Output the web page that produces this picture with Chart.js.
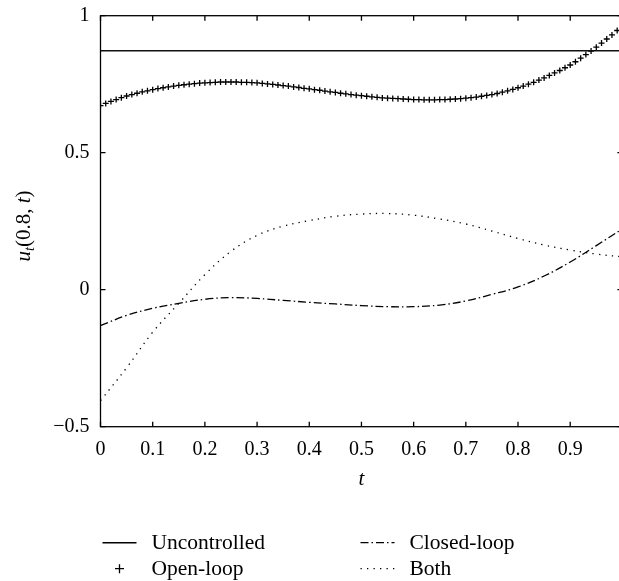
<!DOCTYPE html>
<html>
<head>
<meta charset="utf-8">
<title>u_t(0.8, t)</title>
<script src="https://cdn.jsdelivr.net/npm/chart.js@4.4.1/dist/chart.umd.min.js"></script>
<style>
    html, body { margin: 0; padding: 0; background: #fff; overflow: hidden; }
    #wrap { width: 640px; height: 581px; }
</style>
</head>
<body>
<div id="wrap"><canvas id="chart" width="640" height="581"></canvas></div>
<script>
// sample positions in t
const tCoarse = [0, 0.05, 0.1, 0.15, 0.2, 0.25, 0.3, 0.35, 0.4, 0.45, 0.5,
                 0.55, 0.6, 0.65, 0.7, 0.75, 0.8, 0.85, 0.9, 0.95, 1];
const tFine = [0, 0.01, 0.02, 0.03, 0.04, 0.05, 0.06, 0.07, 0.08, 0.09,
               0.1, 0.11, 0.12, 0.13, 0.14, 0.15, 0.16, 0.17, 0.18, 0.19,
               0.2, 0.21, 0.22, 0.23, 0.24, 0.25, 0.26, 0.27, 0.28, 0.29,
               0.3, 0.31, 0.32, 0.33, 0.34, 0.35, 0.36, 0.37, 0.38, 0.39,
               0.4, 0.41, 0.42, 0.43, 0.44, 0.45, 0.46, 0.47, 0.48, 0.49,
               0.5, 0.51, 0.52, 0.53, 0.54, 0.55, 0.56, 0.57, 0.58, 0.59,
               0.6, 0.61, 0.62, 0.63, 0.64, 0.65, 0.66, 0.67, 0.68, 0.69,
               0.7, 0.71, 0.72, 0.73, 0.74, 0.75, 0.76, 0.77, 0.78, 0.79,
               0.8, 0.81, 0.82, 0.83, 0.84, 0.85, 0.86, 0.87, 0.88, 0.89,
               0.9, 0.91, 0.92, 0.93, 0.94, 0.95, 0.96, 0.97, 0.98, 0.99, 1];

// series values
const uncontrolled = [0.872, 0.872, 0.872, 0.872, 0.872, 0.872, 0.872, 0.872, 0.872, 0.872, 0.872,
                      0.872, 0.872, 0.872, 0.872, 0.872, 0.872, 0.872, 0.872, 0.872, 0.872];
const openLoop = [0.672, 0.680, 0.687, 0.694, 0.701, 0.707, 0.712, 0.717, 0.722, 0.726,
                  0.730, 0.734, 0.737, 0.740, 0.743, 0.746, 0.748, 0.750, 0.752, 0.754,
                  0.755, 0.756, 0.757, 0.758, 0.758, 0.758, 0.758, 0.757, 0.757, 0.756,
                  0.755, 0.753, 0.751, 0.749, 0.747, 0.745, 0.743, 0.740, 0.738, 0.735,
                  0.733, 0.730, 0.728, 0.725, 0.722, 0.720, 0.717, 0.715, 0.712, 0.710,
                  0.708, 0.706, 0.704, 0.702, 0.700, 0.699, 0.698, 0.697, 0.696, 0.695,
                  0.694, 0.694, 0.693, 0.693, 0.693, 0.694, 0.694, 0.695, 0.696, 0.697,
                  0.699, 0.701, 0.703, 0.706, 0.709, 0.712, 0.716, 0.721, 0.726, 0.731,
                  0.737, 0.743, 0.750, 0.757, 0.765, 0.773, 0.782, 0.791, 0.800, 0.810,
                  0.820, 0.832, 0.845, 0.858, 0.871, 0.885, 0.900, 0.915, 0.930, 0.946, 0.962];
const closedLoop = [-0.131, -0.094, -0.068, -0.050, -0.035, -0.029, -0.032, -0.039, -0.046, -0.052, -0.058,
                    -0.062, -0.062, -0.056, -0.041, -0.017, 0.010, 0.050, 0.101, 0.161, 0.222];
const both = [-0.405, -0.285, -0.155, -0.050, 0.055, 0.140, 0.198, 0.232, 0.252, 0.268, 0.276,
              0.278, 0.272, 0.258, 0.240, 0.214, 0.187, 0.163, 0.145, 0.130, 0.120];

// axis ticks
const xTicks = [0, 0.1, 0.2, 0.3, 0.4, 0.5, 0.6, 0.7, 0.8, 0.9, 1];
const xTickLabels = ['0', '0.1', '0.2', '0.3', '0.4', '0.5', '0.6', '0.7', '0.8', '0.9', '1'];
const yTicks = [-0.5, 0, 0.5, 1];
const yTickLabels = ['\u22120.5', '0', '0.5', '1'];

const FONT = '"Liberation Serif", "Times New Roman", serif';

function pairs(xs, ys) {
    return ys.map((v, i) => ({ x: xs[i], y: v }));
}

// box round the plot with inward tick marks on all four sides
const framePlugin = {
    id: 'frame',
    afterDatasetsDraw(chart) {
        const { ctx, chartArea: a, scales: { x, y } } = chart;
        ctx.save();
        ctx.strokeStyle = '#000';
        ctx.lineWidth = 1.3;
        ctx.strokeRect(a.left, a.top, a.right - a.left, a.bottom - a.top);
        ctx.beginPath();
        x.ticks.forEach(t => {
            const px = x.getPixelForValue(t.value);
            ctx.moveTo(px, a.bottom); ctx.lineTo(px, a.bottom - 5);
            ctx.moveTo(px, a.top); ctx.lineTo(px, a.top + 5);
        });
        y.ticks.forEach(t => {
            const py = y.getPixelForValue(t.value);
            ctx.moveTo(a.left, py); ctx.lineTo(a.left + 5, py);
            ctx.moveTo(a.right, py); ctx.lineTo(a.right - 5, py);
        });
        ctx.stroke();
        ctx.restore();
    }
};

// axis titles: italic t, and u_t(0.8, t) with a subscript
const titlePlugin = {
    id: 'titles',
    afterDraw(chart) {
        const { ctx, chartArea: a } = chart;
        ctx.save();
        ctx.fillStyle = '#000';
        ctx.textAlign = 'center';
        ctx.textBaseline = 'alphabetic';
        ctx.font = 'italic 21px ' + FONT;
        ctx.fillText('t', (a.left + a.right) / 2, a.bottom + 58);

        const parts = [
            { text: 'u', font: 'italic 21px ' + FONT, dy: 0 },
            { text: 't', font: 'italic 14px ' + FONT, dy: 4 },
            { text: '(0.8, ', font: '21px ' + FONT, dy: 0 },
            { text: 't', font: 'italic 21px ' + FONT, dy: 0 },
            { text: ')', font: '21px ' + FONT, dy: 0 }
        ];
        let total = 0;
        parts.forEach(p => { ctx.font = p.font; p.w = ctx.measureText(p.text).width; total += p.w; });
        ctx.translate(23, 226);
        ctx.rotate(-Math.PI / 2);
        ctx.textAlign = 'left';
        let cx = -total / 2;
        parts.forEach(p => {
            ctx.font = p.font;
            ctx.fillText(p.text, cx, 7 + p.dy);
            cx += p.w;
        });
        ctx.restore();
    }
};

// two-column legend under the plot
const legendPlugin = {
    id: 'plotLegend',
    afterDraw(chart) {
        const { ctx, chartArea: a } = chart;
        ctx.save();
        ctx.font = '21.5px ' + FONT;
        ctx.fillStyle = '#000';
        ctx.textBaseline = 'alphabetic';
        ctx.textAlign = 'left';
        chart.data.datasets.forEach((ds, i) => {
            const col = Math.floor(i / 2);
            const row = i % 2;
            const x0 = a.left + 2 + col * 258;
            const yc = a.bottom + 116 + row * 26;
            ctx.strokeStyle = '#000';
            ctx.lineWidth = ds.borderWidth || 1.2;
            if (ds.showLine === false) {
                const cx = x0 + 17, r = 4.5;
                ctx.beginPath();
                ctx.moveTo(cx - r, yc); ctx.lineTo(cx + r, yc);
                ctx.moveTo(cx, yc - r); ctx.lineTo(cx, yc + r);
                ctx.stroke();
            } else {
                ctx.setLineDash(ds.borderDash || []);
                ctx.beginPath();
                ctx.moveTo(x0, yc); ctx.lineTo(x0 + 34, yc);
                ctx.stroke();
                ctx.setLineDash([]);
            }
            ctx.fillText(ds.label, x0 + 49, yc + 6.5);
        });
        ctx.restore();
    }
};

const ctx = document.getElementById('chart').getContext('2d');
window.uChart = new Chart(ctx, {
    type: 'line',
    data: {
        datasets: [
            {
                label: 'Uncontrolled',
                data: pairs(tCoarse, uncontrolled),
                borderColor: '#111',
                borderWidth: 1.4,
                pointRadius: 0,
                tension: 0
            },
            {
                label: 'Open-loop',
                data: pairs(tFine, openLoop),
                showLine: false,
                borderColor: '#000',
                backgroundColor: '#000',
                borderWidth: 1.3,
                pointStyle: 'cross',
                pointRadius: 3,
                pointBorderWidth: 1.3
            },
            {
                label: 'Closed-loop',
                data: pairs(tCoarse, closedLoop),
                borderColor: '#000',
                borderWidth: 1.3,
                borderDash: [8, 3, 1.5, 3],
                pointRadius: 0,
                tension: 0.4
            },
            {
                label: 'Both',
                data: pairs(tCoarse, both),
                borderColor: '#000',
                borderWidth: 1.3,
                borderDash: [1.3, 5.2],
                pointRadius: 0,
                tension: 0.4
            }
        ]
    },
    options: {
        responsive: false,
        animation: false,
        layout: {
            padding: { top: 15.7, right: 17.6, left: 0, bottom: 0 }
        },
        plugins: {
            legend: { display: false },
            tooltip: { enabled: false }
        },
        scales: {
            x: {
                type: 'linear',
                min: 0,
                max: 1,
                afterFit: scale => {
                    scale.height = 581 - 426.7;
                    scale.paddingLeft = 0;
                    scale.paddingRight = 0;
                },
                afterBuildTicks: scale => { scale.ticks = xTicks.map(v => ({ value: v })); },
                grid: { display: false, drawTicks: false },
                border: { display: false },
                ticks: {
                    padding: 11,
                    color: '#000',
                    font: { family: FONT, size: 20 },
                    maxRotation: 0,
                    callback: (v, i) => xTickLabels[i]
                }
            },
            y: {
                type: 'linear',
                min: -0.5,
                max: 1,
                afterFit: scale => {
                    scale.width = 100.5;
                    scale.paddingTop = 0;
                    scale.paddingBottom = 0;
                },
                afterBuildTicks: scale => { scale.ticks = yTicks.map(v => ({ value: v })); },
                grid: { display: false, drawTicks: false },
                border: { display: false },
                ticks: {
                    padding: 11,
                    color: '#000',
                    font: { family: FONT, size: 20 },
                    callback: (v, i) => yTickLabels[i]
                }
            }
        }
    },
    plugins: [framePlugin, titlePlugin, legendPlugin]
});
</script>
</body>
</html>
